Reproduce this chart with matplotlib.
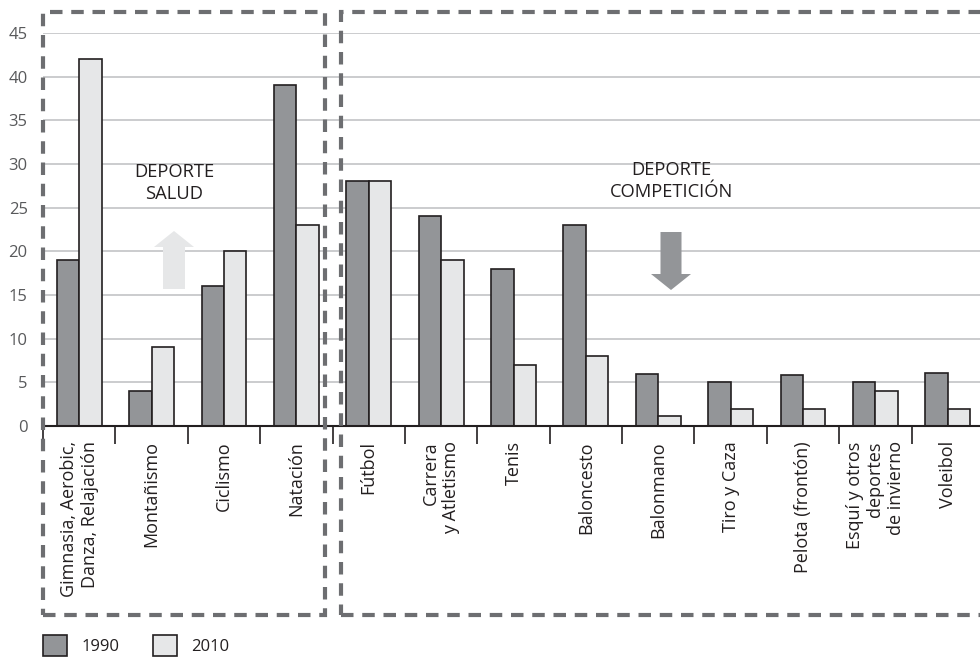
import numpy as np
import matplotlib
matplotlib.use("Agg")
import matplotlib.pyplot as plt
from matplotlib.patches import Rectangle, FancyArrow

plt.rcParams['font.family'] = ['Open Sans', 'DejaVu Sans']

categories = ["Gimnasia, Aerobic,\nDanza, Relajación", "Montañismo", "Ciclismo", "Natación",
              "Fútbol", "Carrera\ny Atletismo", "Tenis", "Baloncesto", "Balonmano",
              "Tiro y Caza", "Pelota (frontón)", "Esquí y otros\ndeportes\nde invierno", "Voleibol"]
v1990 = [19, 4, 16, 39, 28, 24, 18, 23, 6, 5, 5.8, 5, 6.1]
v2010 = [42, 9, 20, 23, 28, 19, 7, 8, 1.2, 2, 1.9, 4, 1.9]
series_labels = ["1990", "2010"]
yticks = [0, 5, 10, 15, 20, 25, 30, 35, 40, 45]

W, H = 980, 659
fig = plt.figure(figsize=(W / 100, H / 100), dpi=100)

def fx(x):
    return x / W

def fy(y):
    return 1 - y / H

ax_left, ax_right, ax_top, ax_bot = 43, 984, 33, 426
ax = fig.add_axes([fx(ax_left), fy(ax_bot), (ax_right - ax_left) / W, (ax_bot - ax_top) / H])

dark = '#231f20'
c1990 = '#939598'
c2010 = '#e6e7e8'
x = np.arange(len(categories))
bw = 0.31
b1 = ax.bar(x - bw / 2, v1990, bw, color=c1990, edgecolor=dark, linewidth=1.2, zorder=3)
b2 = ax.bar(x + bw / 2, v2010, bw, color=c2010, edgecolor=dark, linewidth=1.2, zorder=3)

ax.set_xlim(-0.5, len(categories) - 0.5)
ax.set_ylim(0, 45)
ax.set_yticks(yticks)
ax.set_yticklabels([str(t) for t in yticks], fontsize=12, color='#58595b')
ax.tick_params(axis='y', length=0, pad=11)
for t in yticks[1:]:
    ax.axhline(t, color='#c7c8ca', lw=1.3, zorder=1)

ax.set_xticks(x)
ax.set_xticklabels(categories, rotation=90, va='top', ha='center', multialignment='right',
                   fontsize=13, color=dark)
ax.tick_params(axis='x', which='major', length=0, pad=11)
ax.set_xticks(np.arange(-0.5, len(categories), 1), minor=True)
ax.tick_params(axis='x', which='minor', length=13, width=1.2, color=dark, direction='out')

for s in ['left', 'right', 'top']:
    ax.spines[s].set_visible(False)
ax.spines['bottom'].set_color(dark)
ax.spines['bottom'].set_linewidth(1.5)
ax.spines['bottom'].set_zorder(4)

# dashed group boxes
dash_col = '#6d6e71'
for (x0, x1) in [(43, 325), (341, 1000)]:
    r = Rectangle((fx(x0), fy(615)), (x1 - x0) / W, (615 - 12) / H, transform=fig.transFigure,
                  fill=False, edgecolor=dash_col, lw=3, linestyle=(0, (3.0, 2.1)), zorder=10)
    fig.add_artist(r)

# group annotations
fig.text(fx(174), fy(183), "DEPORTE\nSALUD", ha='center', va='center', fontsize=13.2,
         color=dark, linespacing=1.3)
fig.text(fx(671), fy(181), "DEPORTE\nCOMPETICIÓN", ha='center', va='center', fontsize=13.2,
         color=dark, linespacing=1.3)

up = FancyArrow(fx(174), fy(289), 0, (289 - 231) / H, width=22 / W, head_width=40 / W,
                head_length=16 / H, length_includes_head=True, transform=fig.transFigure,
                color=c2010, lw=0)
fig.add_artist(up)
down = FancyArrow(fx(671), fy(232), 0, -(290 - 232) / H, width=21 / W, head_width=40 / W,
                  head_length=16 / H, length_includes_head=True, transform=fig.transFigure,
                  color=c1990, lw=0)
fig.add_artist(down)

fig.legend([b1, b2], series_labels, loc='lower left', bbox_to_anchor=(fx(28), fy(671)),
           ncol=2, frameon=False, fontsize=12, handlelength=1.45, handleheight=1.55,
           handletextpad=0.85, columnspacing=2.0, labelcolor=dark)

fig.savefig("out.png", dpi=100)
